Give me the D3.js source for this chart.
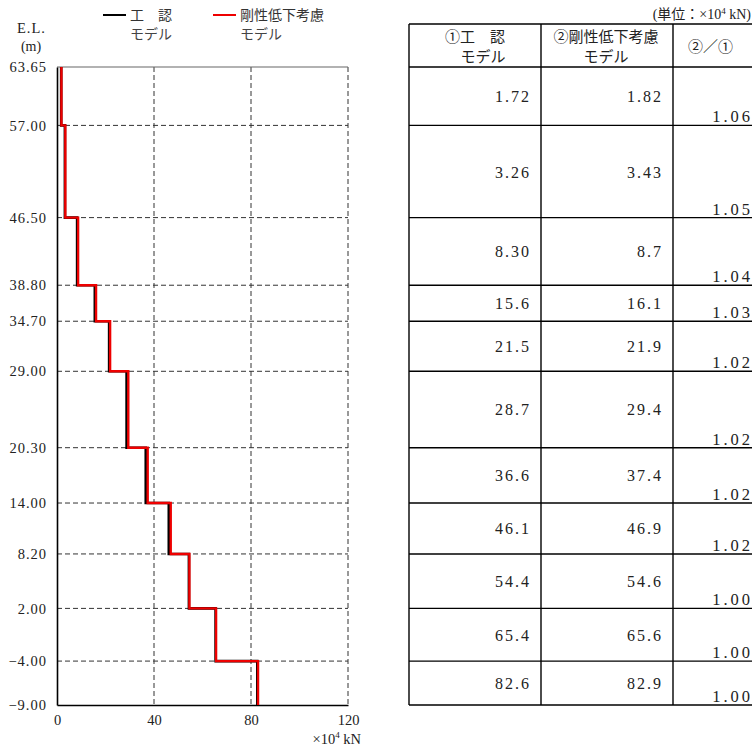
<!DOCTYPE html>
<html><head><meta charset="utf-8">
<script src="https://cdn.jsdelivr.net/npm/d3@7"></script>
<style>
body{margin:0;background:#fff;}
svg{display:block;}
</style></head>
<body>
<svg id="c" width="752" height="749"></svg>
<script>
// ---- data ----
const elevations = [63.65, 57.00, 46.50, 38.80, 34.70, 29.00, 20.30, 14.00, 8.20, 2.00, -4.00, -9.00];
const elevLabelsAll = ["63.65","57.00","46.50","38.80","34.70","29.00","20.30","14.00","8.20","2.00","\u22124.00","\u22129.00"];
const modelA = [1.72, 3.26, 8.30, 15.6, 21.5, 28.7, 36.6, 46.1, 54.4, 65.4, 82.6];
const modelB = [1.82, 3.43, 8.7, 16.1, 21.9, 29.4, 37.4, 46.9, 54.6, 65.6, 82.9];
const modelAText = ["1.72","3.26","8.30","15.6","21.5","28.7","36.6","46.1","54.4","65.4","82.6"];
const modelBText = ["1.82","3.43","8.7","16.1","21.9","29.4","37.4","46.9","54.6","65.6","82.9"];
const ratioText = ["1.06","1.05","1.04","1.03","1.02","1.02","1.02","1.02","1.00","1.00","1.00"];
const xTicks = [0, 40, 80, 120];

const serif = "'Liberation Serif','DejaVu Serif','Noto Sans CJK JP',serif";
const jp = "'Noto Sans CJK JP',sans-serif";

const svg = d3.select("#c");
const x = d3.scaleLinear().domain([0,120]).range([57,348]);
const y = d3.scaleLinear().domain([63.65,-9.00]).range([67,705]);

// grid
const g = svg.append("g");
g.selectAll("line.vg").data(xTicks.slice(1)).join("line")
  .attr("x1",d=>x(d)).attr("x2",d=>x(d)).attr("y1",y(63.65)).attr("y2",y(-9))
  .attr("stroke","#333").attr("stroke-width",1).attr("stroke-dasharray","5,3");
g.selectAll("line.hg").data(elevations.slice(1,-1)).join("line")
  .attr("x1",x(0)).attr("x2",x(120)).attr("y1",d=>y(d)).attr("y2",d=>y(d))
  .attr("stroke","#333").attr("stroke-width",1).attr("stroke-dasharray","5,3");
// top border
g.append("line").attr("x1",x(0)).attr("x2",x(120)).attr("y1",y(63.65)).attr("y2",y(63.65))
  .attr("stroke","#666").attr("stroke-width",1.2);

// axes
const yAxis = d3.axisLeft(y).tickValues(elevations).tickSize(0).tickPadding(10)
  .tickFormat((d,i)=>elevLabelsAll[i]);
const ya = svg.append("g").attr("transform",`translate(${x(0)},0)`).call(yAxis);
ya.select(".domain").attr("stroke","#000").attr("stroke-width",1.6);
ya.selectAll("text").attr("font-family",serif).attr("font-size",14.5).attr("fill","#222")
  .attr("letter-spacing","1px");

const xAxis = d3.axisBottom(x).tickValues(xTicks).tickSize(0).tickPadding(10);
const xa = svg.append("g").attr("transform",`translate(0,${y(-9)})`).call(xAxis);
xa.select(".domain").attr("stroke","#000").attr("stroke-width",1.6);
xa.selectAll("text").attr("font-family",serif).attr("font-size",14.5).attr("fill","#222");

// unit below x axis
const ux = svg.append("text").attr("x",361).attr("y",744).attr("text-anchor","end")
  .attr("font-family",serif).attr("font-size",14.5).attr("fill","#222");
ux.append("tspan").text("\u00d710");
ux.append("tspan").attr("font-size",9).attr("dy",-6).text("4");
ux.append("tspan").attr("dy",6).text(" kN");

// E.L. label
svg.append("text").attr("x",17).attr("y",33).attr("font-family",serif).attr("font-size",14.5)
  .attr("fill","#222").attr("letter-spacing","1px").text("E.L.");
svg.append("text").attr("x",31).attr("y",51).attr("text-anchor","middle").attr("font-family",serif)
  .attr("font-size",14).attr("fill","#222").text("(m)");

// step lines
function stepPoints(vals){
  const pts = [];
  vals.forEach((v,i)=>{ pts.push([v, elevations[i]]); pts.push([v, elevations[i+1]]); });
  return pts;
}
const line = d3.line().x(d=>x(d[0])).y(d=>y(d[1]));
svg.append("path").attr("d",line(stepPoints(modelA))).attr("fill","none")
  .attr("stroke","#000").attr("stroke-width",2.6);
svg.append("path").attr("d",line(stepPoints(modelB))).attr("fill","none")
  .attr("stroke","#ee0000").attr("stroke-width",2.4);

// legend
const leg = [{c:"#000",l1:"工\u3000認",l2:"モデル",x:103},{c:"#ee0000",l1:"剛性低下考慮",l2:"モデル",x:213}];
leg.forEach(o=>{
  svg.append("line").attr("x1",o.x).attr("x2",o.x+23).attr("y1",15).attr("y2",15)
    .attr("stroke",o.c).attr("stroke-width",2);
  svg.append("text").attr("x",o.x+27).attr("y",20).attr("font-family",jp).attr("font-size",14)
    .attr("fill","#333").text(o.l1);
  svg.append("text").attr("x",o.x+27).attr("y",39).attr("font-family",jp).attr("font-size",14)
    .attr("fill","#444").text(o.l2);
});

// table
const t = svg.append("g");
const colX = [409, 541, 673];
const tTop = 24, tRight = 752;
const unit = t.append("text").attr("x",751).attr("y",19).attr("text-anchor","end")
  .attr("font-family",serif).attr("font-size",14).attr("fill","#222");
unit.append("tspan").text("(単位：\u00d710");
unit.append("tspan").attr("font-size",9).attr("dy",-5).text("4");
unit.append("tspan").attr("dy",5).text(" kN)");

// horizontal lines
const hLines = [tTop].concat(elevations.map(e=>y(e)));
t.selectAll("line.h").data(hLines).join("line")
  .attr("x1",colX[0]).attr("x2",tRight).attr("y1",d=>d).attr("y2",d=>d)
  .attr("stroke","#000").attr("stroke-width",1.4);
t.selectAll("line.v").data(colX).join("line")
  .attr("x1",d=>d).attr("x2",d=>d).attr("y1",tTop).attr("y2",y(-9))
  .attr("stroke","#000").attr("stroke-width",1.4);

// header
function hdr(xp,yp,txt,anchor){
  t.append("text").attr("x",xp).attr("y",yp).attr("text-anchor",anchor||"start")
    .attr("font-family",jp).attr("font-size",15).attr("fill","#222").text(txt);
}
hdr(475,42,"①工\u3000認","middle");
hdr(483,62,"モデル","middle");
hdr(606,42,"②剛性低下考慮","middle");
hdr(606,62,"モデル","middle");
hdr(688,52,"②／①","start");

// values
const rows = modelAText.map((a,i)=>({a, b:modelBText[i], r:ratioText[i], top:elevations[i], bot:elevations[i+1]}));
rows.forEach(r=>{
  const cy = (y(r.top)+y(r.bot))/2 + 6;
  t.append("text").attr("x",531).attr("y",cy).attr("text-anchor","end")
    .attr("font-family",serif).attr("font-size",16).attr("letter-spacing","2px").attr("fill","#222").text(r.a);
  t.append("text").attr("x",663).attr("y",cy).attr("text-anchor","end")
    .attr("font-family",serif).attr("font-size",16).attr("letter-spacing","2px").attr("fill","#222").text(r.b);
  t.append("text").attr("x",753).attr("y",y(r.bot)-3).attr("text-anchor","end")
    .attr("font-family",serif).attr("font-size",16.5).attr("letter-spacing","3px").attr("fill","#222").text(r.r);
});
</script>
</body></html>
